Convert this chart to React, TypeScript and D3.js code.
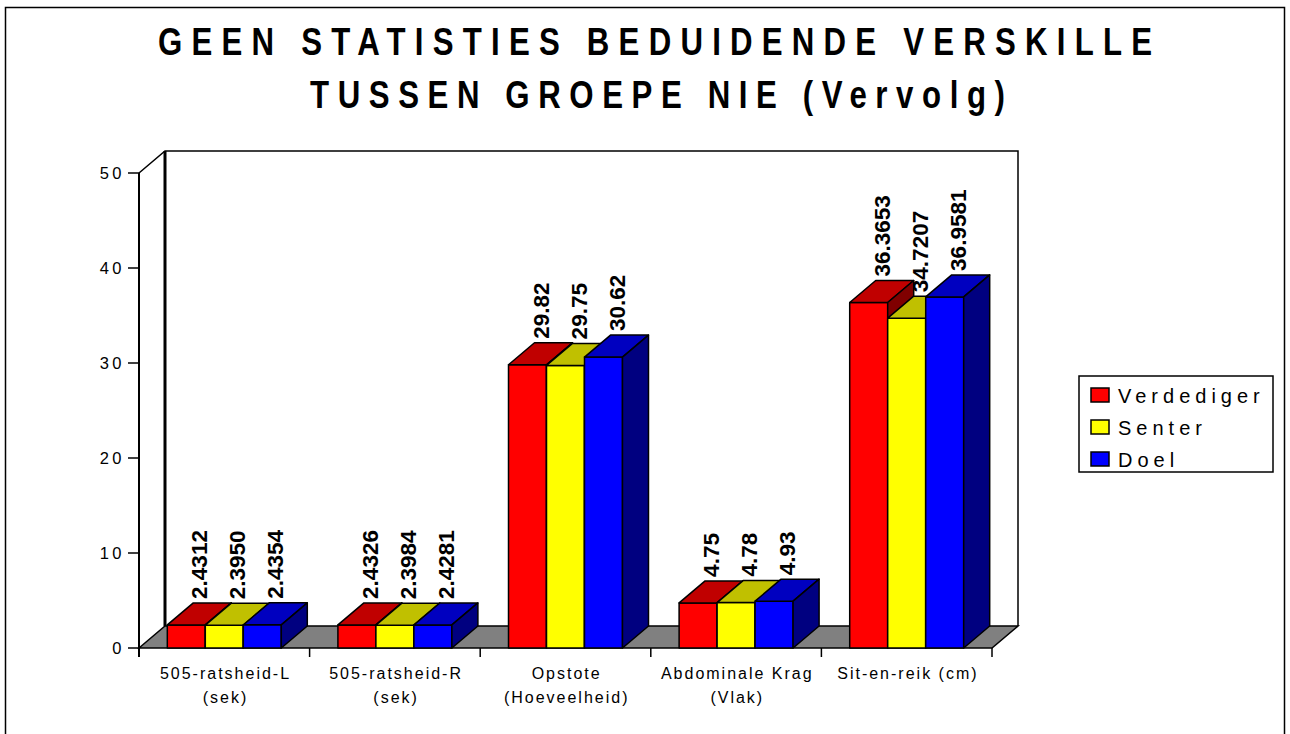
import React from "react";
import * as d3 from "d3";

const categories = [
  "505-ratsheid-L|(sek)",
  "505-ratsheid-R|(sek)",
  "Opstote|(Hoeveelheid)",
  "Abdominale Krag|(Vlak)",
  "Sit-en-reik (cm)",
];
const decimals = [4, 4, 2, 2, 4];
const series = ["Verdediger", "Senter", "Doel"];
const verdediger = [2.4312, 2.4326, 29.82, 4.75, 36.3653];
const senter = [2.395, 2.3984, 29.75, 4.78, 34.7207];
const doel = [2.4354, 2.4281, 30.62, 4.93, 36.9581];
const yTicks = [0, 10, 20, 30, 40, 50];

// front / top / side shades per series
const faces = [
  ["#ff0000", "#c00000", "#800000"],
  ["#ffff00", "#c0c000", "#808000"],
  ["#0000ff", "#0000c0", "#000080"],
];

const W = 1290;
const H = 734;
const DX = 26;
const DY = 22;
const left = 139;
const right = 992;
const base = 648;
const top = 173;

export default function App() {
  const values = [verdediger, senter, doel];
  const x = d3.scaleBand<string>().domain(categories).range([left, right]).padding(0);
  const inner = d3
    .scaleBand<string>()
    .domain(series)
    .range([0, x.bandwidth()])
    .paddingInner(0)
    .paddingOuter(0.745);
  const y = d3.scaleLinear().domain([0, 50]).range([base, top]);

  const bars: React.ReactNode[] = [];
  categories.forEach((c, ci) => {
    series.forEach((s, si) => {
      const v = values[si][ci];
      const x0 = (x(c) as number) + (inner(s) as number);
      const bw = inner.bandwidth();
      const yt = y(v);
      const [front, topC, side] = faces[si];
      const frontPts = `${x0},${base} ${x0},${yt} ${x0 + bw},${yt} ${x0 + bw},${base}`;
      const topPts = `${x0},${yt} ${x0 + DX},${yt - DY} ${x0 + bw + DX},${yt - DY} ${x0 + bw},${yt}`;
      const sidePts = `${x0 + bw},${base} ${x0 + bw},${yt} ${x0 + bw + DX},${yt - DY} ${x0 + bw + DX},${base - DY}`;
      const lx = x0 + bw / 2 + DX / 2;
      const ly = yt - DY - 4;
      bars.push(
        <g key={`${ci}-${si}`}>
          <polygon points={frontPts} fill={front} stroke="#000" strokeWidth={1.5} strokeLinejoin="round" />
          <polygon points={topPts} fill={topC} stroke="#000" strokeWidth={1.5} strokeLinejoin="round" />
          <polygon points={sidePts} fill={side} stroke="#000" strokeWidth={1.5} strokeLinejoin="round" />
          <text
            transform={`translate(${lx},${ly}) rotate(-90)`}
            dy="0.36em"
            fontSize={22.5}
            fontWeight="bold"
            fontFamily="'Liberation Sans', Arial, sans-serif"
          >
            {v.toFixed(decimals[ci])}
          </text>
        </g>
      );
    });
  });

  const font = "'Liberation Sans', Arial, sans-serif";
  const sx = 0.8;

  return (
    <svg width={W} height={H} style={{ position: "absolute", left: 0, top: 0, background: "#fff" }}>
      <rect x={5.5} y={7.5} width={1279} height={760} fill="#fff" stroke="#000" strokeWidth={1.5} />

      {/* title */}
      <g transform={`scale(${sx},1)`} fontFamily={font} fontWeight="bold" fontSize={39}>
        <text x={158 / sx} y={55} textLength={994 / sx} lengthAdjust="spacing">
          GEEN STATISTIES BEDUIDENDE VERSKILLE
        </text>
        <text x={310 / sx} y={108} textLength={695 / sx} lengthAdjust="spacing">
          TUSSEN GROEPE NIE (Vervolg)
        </text>
      </g>

      {/* back wall and floor */}
      <polyline
        points={`${left},${top} ${left + DX},${top - DY} ${right + DX},${top - DY} ${right + DX},${base - DY}`}
        fill="none"
        stroke="#000"
        strokeWidth={1.5}
      />
      <line x1={left + DX} y1={top - DY} x2={left + DX} y2={base - DY} stroke="#000" strokeWidth={3} />
      <polygon
        points={`${left},${base} ${left + DX},${base - DY} ${right + DX},${base - DY} ${right},${base}`}
        fill="#808080"
        stroke="#000"
        strokeWidth={1.5}
      />

      {/* y axis */}
      <line x1={left} y1={top} x2={left} y2={base + 9} stroke="#000" strokeWidth={2} />
      {yTicks.map((t) => (
        <g key={t}>
          <line x1={left - 11} x2={left} y1={y(t)} y2={y(t)} stroke="#000" strokeWidth={1.5} />
          <text
            x={125}
            y={y(t) + 6}
            textAnchor="end"
            fontSize={16.5}
            letterSpacing={3.5}
            fontFamily={font}
          >
            {t}
          </text>
        </g>
      ))}

      {/* x axis ticks and labels */}
      {[...categories.map((c) => x(c) as number), right].map((px, i) => (
        <line key={i} x1={px} x2={px} y1={base} y2={base + 9} stroke="#000" strokeWidth={1.5} />
      ))}
      {categories.map((c) => {
        const cx = (x(c) as number) + x.bandwidth() / 2;
        return c.split("|").map((ln, li) => (
          <text
            key={c + li}
            x={cx + 1.2}
            y={679 + li * 24}
            textAnchor="middle"
            fontSize={16}
            letterSpacing={2}
            fontFamily={font}
          >
            {ln}
          </text>
        ));
      })}

      {bars}

      {/* legend */}
      <rect x={1079} y={376} width={194} height={96} fill="#fff" stroke="#000" strokeWidth={1.5} />
      {series.map((s, i) => (
        <g key={s} transform={`translate(1091,${395 + i * 32})`}>
          <rect x={0} y={-7} width={18} height={14} fill={faces[i][0]} stroke="#000" strokeWidth={1.5} />
          <text x={27} y={8} fontSize={20} letterSpacing={5} fontFamily={font}>
            {s}
          </text>
        </g>
      ))}
    </svg>
  );
}
